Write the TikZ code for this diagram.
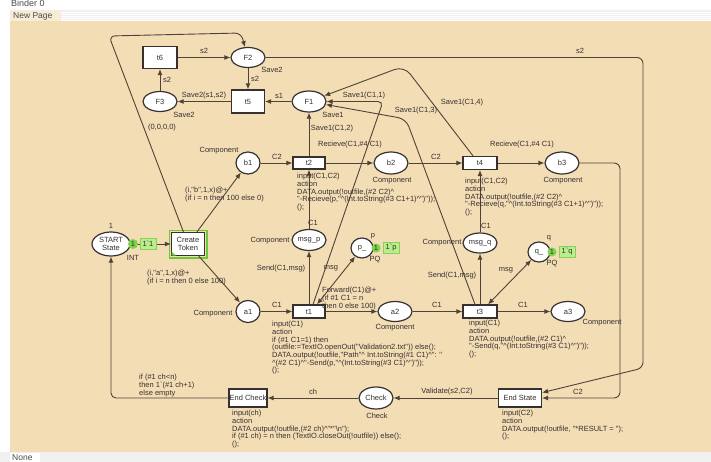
\documentclass[tikz,border=0pt]{standalone}
\usepackage{fontspec}
\newfontfamily\cpnfont{Liberation Sans}
\usetikzlibrary{arrows.meta,shapes.geometric}
\definecolor{canvas}{HTML}{F3DDB5}
\definecolor{arccol}{HTML}{4F4237}
\definecolor{ink}{HTML}{363030}
\definecolor{tokfill}{HTML}{7CD44A}
\definecolor{markfill}{HTML}{B8EE8C}
\definecolor{markline}{HTML}{8ACF5A}
\definecolor{selgreen}{HTML}{6BC93A}
\definecolor{barbg}{HTML}{F0F0F0}
\newcommand{\cpncaret}{\textasciicircum}
\begin{document}
\begin{tikzpicture}[x=1pt,y=-1pt,
  font=\cpnfont\fontsize{7.5}{7.7}\selectfont,
  every node/.style={text=ink,inner sep=0pt},
  place/.style={ellipse,draw=ink,line width=1.2pt,fill=white,minimum width=34pt,minimum height=21pt},
  smallplace/.style={place,minimum width=24pt,minimum height=22pt},
  trans/.style={rectangle,draw=ink,line width=1.2pt,fill=white,minimum width=33pt,minimum height=13pt},
  flow/.style={draw=arccol,line width=0.9pt,-{Latex[length=6pt,width=5pt]}},
  bothway/.style={draw=arccol,line width=0.9pt,{Latex[length=6pt,width=5pt]}-{Latex[length=6pt,width=5pt]}},
  code/.style={align=left,anchor=north west},
  tok/.style={circle,fill=tokfill,minimum size=10pt},
  marking/.style={rectangle,fill=markfill,draw=markline,line width=0.6pt,minimum width=16pt,minimum height=11pt},
]
% frame of the editor window
\fill[white] (0,0) rectangle (711,462);
\useasboundingbox (0,0) rectangle (711,462);
\node[anchor=base west,font=\cpnfont\fontsize{9}{9}\selectfont,text=black!70] (binder) at (11,7) {Binder 0};
\fill[barbg] (10,10) rectangle (711,21);
\foreach \yy in {12,14,16,18,20} \draw[white,line width=0.6pt] (61,\yy) -- (711,\yy);
\fill[canvas!55!white] (10,10.5) rectangle (61,21);
\node[anchor=base west,font=\cpnfont\fontsize{8.5}{8.5}\selectfont,text=black!70] (tabname) at (13,18.5) {New Page};
\fill[canvas] (10,21) rectangle (711,452);
\fill[barbg] (0,452) rectangle (711,462);
\fill[white] (10,453) rectangle (40,462);
\node[anchor=base west,font=\cpnfont\fontsize{8.5}{8.5}\selectfont,text=black!70] (nonetab) at (12,460.5) {None};

% places and transitions
\node[trans,minimum width=34pt,minimum height=22pt] (t6) at (160,57.5) {t6};
\node[place,minimum height=20pt] (F2) at (248,57.5) {F2};
\node[place,minimum height=20pt] (F3) at (160,101.5) {F3};
\node[trans,minimum width=33pt,minimum height=23pt] (t5) at (248,101.5) {t5};
\node[place] (F1) at (309,101.5) {F1};
\node[smallplace] (b1) at (248,163) {b1};
\node[trans,minimum width=32pt,minimum height=12pt] (t2) at (309,163) {t2};
\node[place,minimum height=22pt] (b2) at (391,163) {b2};
\node[trans,minimum width=34pt] (t4) at (480,163) {t4};
\node[place,minimum height=22pt] (b3) at (562,163) {b3};
\node[place,minimum width=38pt,minimum height=24pt,align=center] (start) at (111,244) {START\\State};
\node[trans,minimum width=33pt,minimum height=23pt,align=center] (ct) at (188,244) {Create\\Token};
\node[place] (msgp) at (309,240) {msg\_p};
\node[place,minimum width=22pt,minimum height=20pt] (pp) at (362,248) {p\_};
\node[place,minimum height=20pt] (msgq) at (480,243) {msg\_q};
\node[place,minimum width=22pt,minimum height=20pt] (qq) at (539,252) {q\_};
\node[smallplace] (a1) at (248,311.5) {a1};
\node[trans,minimum width=32pt] (t1) at (309,311.5) {t1};
\node[place,minimum height=20pt] (a2) at (395,311.5) {a2};
\node[trans,minimum width=34pt] (t3) at (480,311.5) {t3};
\node[place,minimum height=20pt] (a3) at (568,311.5) {a3};
\node[trans,minimum width=38pt,minimum height=18pt] (endcheck) at (248,398) {End Check};
\node[place,minimum height=22pt] (check) at (376,398) {Check};
\node[trans,minimum width=43pt,minimum height=18pt] (endstate) at (520,398) {End State};

% selection frame of the enabled transition
\draw[selgreen,line width=1.6pt] ([shift={(-1.6pt,-1.6pt)}]ct.south west) rectangle ([shift={(1.6pt,1.6pt)}]ct.north east);
\fill[selgreen] ([shift={(0.6pt,0.6pt)}]ct.south west) -- ++(4pt,0) -- ++(-4pt,4pt) -- cycle;

% bend points
\coordinate (loopA) at (109,36);
\coordinate (loopB) at (241,33);
\coordinate (topR) at (643,57.5);
\coordinate (sideR) at (643,368);
\coordinate (b3R) at (620,163);
\coordinate (b3D) at (620,398);
\coordinate (retL) at (111,398);
\coordinate (k1) at (383,101.5);
\coordinate (k3) at (406,119);
\coordinate (k4) at (404,66);

% arcs of the upper loop
\draw[flow] (t6) -- (F2);
\draw[flow] (F3) -- (t6);
\draw[flow] (t5) -- (F3);
\draw[flow] (F2) -- (t5);
\draw[flow] (F1) -- (t5);
\draw[flow] (t2) -- (F1);
\draw[flow,rounded corners=6pt] (ct) -- (loopA) -- (loopB) -- (F2);
\draw[flow,rounded corners=6pt] (F2) -- (topR) -- (sideR) -- (endstate);
\draw[flow,rounded corners=6pt] (b3) -- (b3R) -- (b3D) -- (endstate);
\draw[flow,rounded corners=5pt] ([xshift=4pt]t1.north) -- (k1) -- (F1);
\draw[flow,rounded corners=8pt] ([xshift=-5pt]t3.north) -- (k3) -- (F1);
\draw[flow,rounded corners=10pt] ([xshift=-7pt]t4.north) -- (k4) -- (F1);

% arcs of the component rows
\draw[flow] (start) -- (ct);
\draw[flow] (ct) -- (b1);
\draw[flow] (ct) -- (a1);
\draw[flow] (b1) -- (t2);
\draw[flow] (t2) -- (b2);
\draw[flow] (b2) -- (t4);
\draw[flow] (t4) -- (b3);
\draw[flow] (msgp) -- (t2);
\draw[flow] (msgq) -- (t4);
\draw[flow] (t1) -- (msgp);
\draw[flow] (t3) -- (msgq);
\draw[bothway] ([xshift=8pt]t1.north) -- (pp);
\draw[bothway] ([xshift=8pt]t3.north) -- (qq);
\draw[flow] (a1) -- (t1);
\draw[flow] (t1) -- (a2);
\draw[flow] (a2) -- (t3);
\draw[flow] (t3) -- (a3);
\draw[flow] (endstate) -- (check);
\draw[flow] (check) -- (endcheck);
\draw[flow,rounded corners=5pt] (endcheck) -- (retL) -- (start);

% token markings
\node[tok] (tokS) at (133,244) {1};
\node[marking] (markS) at (148,244) {1`1};
\node[tok,minimum size=9pt] (tokP) at (376,248) {1};
\node[marking] (markP) at (391,248) {1`p};
\node[tok,minimum size=9pt] (tokQ) at (552,252) {1};
\node[marking] (markQ) at (567,252) {1`q};

% inscriptions
\node (lS2a) at (204,51) {s2};
\node (lS2b) at (167,80) {s2};
\node (lSave2s) at (204,96) {Save2(s1,s2)};
\node (lSave2F3) at (184,115) {Save2};
\node (lS2c) at (255,79) {s2};
\node (lSave2F2) at (272,70) {Save2};
\node (lS1) at (279,96) {s1};
\node (lSave1F1) at (333,115) {Save1};
\node (lSave1c2) at (332,129) {Save1(C1,2)};
\node (lSave1c1) at (364,96) {Save1(C1,1)};
\node (lSave1c3) at (416,111) {Save1(C1,3)};
\node (lSave1c4) at (462,103) {Save1(C1,4)};
\node (lZero) at (162,128) {(0,0,0,0)};
\node (lS2top) at (580,51) {s2};
\node (lCompB1) at (219,151) {Component};
\node (lC2a) at (277,157) {C2};
\node (lRecv1) at (350,145) {Recieve(C1,\#4 C1)};
\node (lC2b) at (436,157) {C2};
\node (lRecv2) at (522,145) {Recieve(C1,\#4 C1)};
\node (lCompB2) at (392,181) {Component};
\node (lCompB3) at (563,181) {Component};
\node (lC1p) at (313,223) {C1};
\node (lC1q) at (486,226) {C1};
\node (lCompMp) at (270,241) {Component};
\node (lCompMq) at (442,243) {Component};
\node (lp) at (373,236) {p};
\node (lPQp) at (375,260) {PQ};
\node (lq) at (549,238) {q};
\node (lPQq) at (552,264) {PQ};
\node (lSendP) at (281,269) {Send(C1,msg)};
\node (lSendQ) at (452,276) {Send(C1,msg)};
\node (lmsgP) at (331,268) {msg};
\node (lmsgQ) at (506,270) {msg};
\node (lone) at (111,226) {1};
\node (lint) at (133,258) {INT};
\node (lCompA1) at (213,314) {Component};
\node (lC1a) at (277,305) {C1};
\node (lC1b) at (437,305) {C1};
\node (lC1c) at (523,305) {C1};
\node (lCompA2) at (395,328) {Component};
\node (lCompA3) at (602,323) {Component};
\node (lch) at (313,392) {ch};
\node (lValid) at (447,392) {Validate(s2,C2)};
\node (lCheck) at (377,416) {Check};
\node (lC2end) at (578,392) {C2};

\node[code] (lB) at (185,187) {(i,"b",1,x)@+\\(if i = n then 100 else 0)};
\node[code] (lA) at (147,270) {(i,"a",1,x)@+\\(if i = n then 0 else 100)};
\node[code] (lFwd) at (322,287) {Forward(C1)@+\\(if \#1 C1 = n\\then 0 else 100)};
\node[code] (lLoop) at (139,374) {if (\#1 ch<n)\\then 1`(\#1 ch+1)\\else empty};

% transition code segments
\node[code] (ct2) at (297,173) {input(C1,C2)\\action\\DATA.output(!outfile,(\#2 C2)\cpncaret\\"-Recieve(p,"\cpncaret(Int.toString(\#3 C1+1)\cpncaret")"));\\();};
\node[code] (ct4) at (465,178) {input(C1,C2)\\action\\DATA.output(!outfile,(\#2 C2)\cpncaret\\"-Recieve(q,"\cpncaret(Int.toString(\#3 C1+1)\cpncaret")"));\\();};
\node[code] (ct1) at (272,321) {input(C1)\\action\\if (\#1 C1=1) then\\(outfile:=TextIO.openOut("Validation2.txt")) else();\\DATA.output(!outfile,"Path"\cpncaret{} Int.toString(\#1 C1)\cpncaret": "\\\cpncaret(\#2 C1)\cpncaret"-Send(p,"\cpncaret(Int.toString(\#3 C1)\cpncaret")"));\\();};
\node[code] (ct3) at (469,320) {input(C1)\\action\\DATA.output(!outfile,(\#2 C1)\cpncaret\\"-Send(q,"\cpncaret(Int.toString(\#3 C1)\cpncaret")"));\\();};
\node[code] (cec) at (232,410) {input(ch)\\action\\DATA.output(!outfile,(\#2 ch)\cpncaret"*"\textbackslash n");\\if (\#1 ch) = n then (TextIO.closeOut(!outfile)) else();\\();};
\node[code] (ces) at (502,410) {input(C2)\\action\\DATA.output(!outfile, "*RESULT = ");\\();};
\end{tikzpicture}
\end{document}
